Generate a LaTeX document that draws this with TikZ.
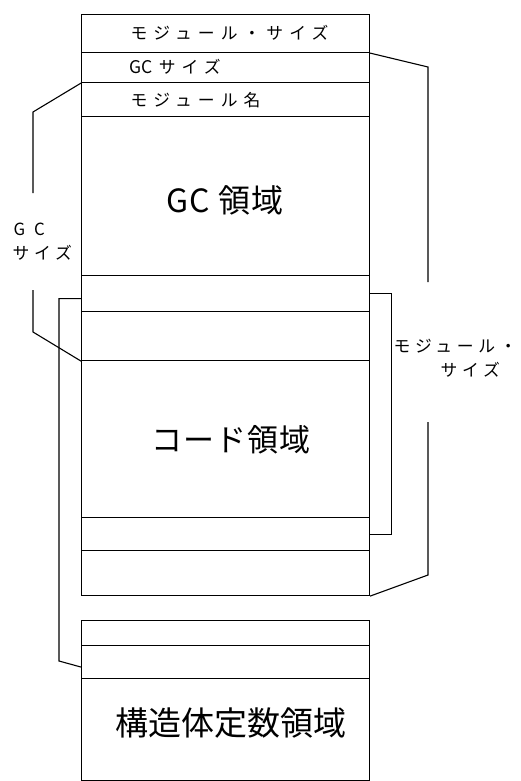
\documentclass[tikz,border=0pt]{standalone}
\usepackage{fontspec}
\setmainfont{Noto Sans CJK JP}
\newfontfamily\smallf[LetterSpace=36]{Noto Sans CJK JP}
\newfontfamily\tightf{Noto Sans CJK JP}
\newfontfamily\bigf[LetterSpace=4]{Noto Sans CJK JP}
\newfontfamily\labf[LetterSpace=28]{Noto Sans CJK JP}
\begin{document}
\begin{tikzpicture}[x=1pt,y=-1pt,line width=1.1pt,
  row/.style={draw,inner sep=0pt,anchor=north west,minimum width=288pt,minimum height=#1},
  smalltxt/.style={inner sep=0pt,anchor=west,font=\smallf\fontsize{16.8}{18}\selectfont},
  bigtxt/.style={inner sep=0pt,font=\bigf\fontsize{31}{33}\selectfont},
  labtxt/.style={inner sep=0pt,font=\labf\fontsize{16.8}{18}\selectfont},
  bracket/.style={draw,line width=1.1pt}]
\useasboundingbox (0,0) rectangle (520,781);
% main stack
\node[row=38pt]  (r1) at (81,14)  {};
\node[row=30pt]  (r2) at (81,52)  {};
\node[row=34pt]  (r3) at (81,82)  {};
\node[row=159pt] (r4) at (81,116) {};
\node[row=36pt]  (r5) at (81,275) {};
\node[row=49pt]  (r6) at (81,311) {};
\node[row=157pt] (r7) at (81,360) {};
\node[row=33pt]  (r8) at (81,517) {};
\node[row=45pt]  (r9) at (81,550) {};
% second stack
\node[row=25pt]  (s1) at (81,620) {};
\node[row=33pt]  (s2) at (81,645) {};
\node[row=102pt] (s3) at (81,678) {};
% texts
\node[smalltxt] (t1) at (130,33) {モジュール・サイズ};
\node[smalltxt] (t2) at (129,67) {{\tightf\fontsize{17.5}{18}\selectfont GC}\hspace{6pt}サイズ};
\node[smalltxt] (t3) at (130,100) {モジュール名};
\node[bigtxt,font=\bigf\fontsize{32}{34}\selectfont] (t4) at (225,200) {GC 領域};
\node[bigtxt] (t7) at (231,440) {コード領域};
\node[bigtxt,font=\fontsize{33}{35}\selectfont] (t10) at (231,723) {構造体定数領域};
% labels
\node[labtxt,anchor=west] (lg1) at (13,229) {G\hspace{9pt}C};
\node[labtxt,anchor=west] (lg2) at (12,253) {サイズ};
\node[labtxt,anchor=west] (lm1) at (393,346) {モジュール・};
\node[labtxt,anchor=west] (lm2) at (440,370) {サイズ};
% brackets
\coordinate (a1) at (428,67);
\coordinate (a2) at (428,282);
\coordinate (a3) at (428,422);
\coordinate (a4) at (428,575);
\draw[bracket] (r1.south east) -- (a1) -- (a2);
\draw[bracket] (a3) -- (a4) -- (r9.south east);
\coordinate (b1) at (33,112);
\coordinate (b2) at (33,193);
\coordinate (b3) at (33,290);
\coordinate (b4) at (33,332);
\draw[bracket] (r2.south west) -- (b1) -- (b2);
\draw[bracket] (b3) -- (b4) -- (r6.south west);
\draw[bracket] ([yshift=-5pt]r5.west) -| (59,661) coordinate (c1) -- ([yshift=-5pt]s2.west);
\draw[bracket] (r5.east) -- ++(21,0) |- (r8.east);
\end{tikzpicture}
\end{document}
